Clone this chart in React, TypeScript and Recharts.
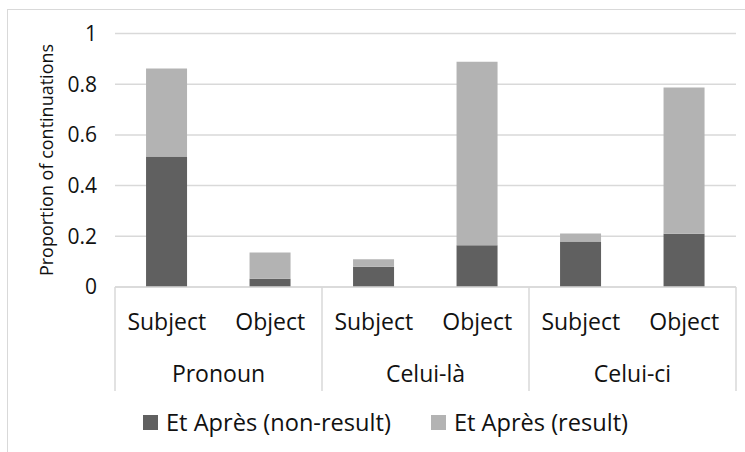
import React from 'react';
import { BarChart, Bar, XAxis, YAxis, CartesianGrid, Legend } from 'recharts';

const subCategories = ['Subject', 'Object', 'Subject', 'Object', 'Subject', 'Object'];
const groupLabels = ['Pronoun', 'Pronoun', 'Celui-là', 'Celui-là', 'Celui-ci', 'Celui-ci'];
const nonResult = [0.515, 0.033, 0.08, 0.165, 0.179, 0.21];
const result = [0.347, 0.103, 0.029, 0.724, 0.032, 0.577];
const yTicks = [0, 0.2, 0.4, 0.6, 0.8, 1];
const seriesNames = ['Et Après (non-result)', 'Et Après (result)'];

const data = subCategories.map((s, i) => ({
  sub: s,
  group: groupLabels[i],
  nonResult: nonResult[i],
  result: result[i],
}));

const FONT = '"Open Sans", sans-serif';
const CHART_W = 737;
const CHART_H = 444;
const M_LEFT = 47;
const Y_W = 60;
const M_RIGHT = 9;
const PLOT_W = CHART_W - M_LEFT - Y_W - M_RIGHT;
const BAND = PLOT_W / subCategories.length;
const LINE = '#d9d9d9';
const DARK = '#606060';
const LIGHT = '#b3b3b3';

const CategoryTick = (props: any) => {
  const { x, y, payload } = props;
  const i = payload.index;
  return (
    <g>
      <text x={x} y={y + 43} textAnchor="middle" fontFamily={FONT} fontSize={23} fill="#111">
        {subCategories[i]}
      </text>
      {i % 2 === 0 && (
        <>
          <line x1={x - BAND / 2} x2={x - BAND / 2} y1={y} y2={y + 104} stroke={LINE} strokeWidth={1.5} />
          <text x={x + BAND / 2} y={y + 95} textAnchor="middle" fontFamily={FONT} fontSize={23} fill="#111">
            {groupLabels[i]}
          </text>
        </>
      )}
      {i === subCategories.length - 1 && (
        <line x1={x + BAND / 2} x2={x + BAND / 2} y1={y} y2={y + 104} stroke={LINE} strokeWidth={1.5} />
      )}
    </g>
  );
};

const renderLegend = () => {
  const colors = [DARK, LIGHT];
  return (
    <div style={{ height: 60, display: 'flex', alignItems: 'center', paddingLeft: 135, fontFamily: FONT, fontSize: 23.6, color: '#111' }}>
      {seriesNames.map((n, i) => (
        <div key={n} style={{ display: 'flex', alignItems: 'center', marginRight: 40 }}>
          <span style={{ display: 'inline-block', width: 15, height: 15, background: colors[i], marginRight: 8 }} />
          <span>{n}</span>
        </div>
      ))}
    </div>
  );
};

export default function App() {
  return (
    <div>
      <div
        style={{
          position: 'absolute',
          left: 7,
          top: 9,
          width: 738,
          height: 443,
          boxSizing: 'border-box',
          borderTop: `1px solid ${LINE}`,
          borderLeft: `1px solid ${LINE}`,
          pointerEvents: 'none',
        }}
      />
      <BarChart
        width={CHART_W}
        height={CHART_H}
        data={data}
        margin={{ top: 25.5, right: M_RIGHT, left: M_LEFT, bottom: 0 }}
        barCategoryGap="30%"
      >
        <CartesianGrid vertical={false} stroke={LINE} strokeWidth={1.5} />
        <XAxis
          dataKey="sub"
          interval={0}
          tickSize={0}
          tickMargin={0}
          tickLine={false}
          axisLine={{ stroke: LINE, strokeWidth: 1.5 }}
          height={105}
          tick={<CategoryTick />}
        />
        <YAxis
          width={Y_W}
          domain={[0, 1]}
          ticks={yTicks}
          tickLine={false}
          axisLine={false}
          tickSize={0}
          tickMargin={18}
          tick={{ fontFamily: FONT, fontSize: 21, fill: '#111' }}
          label={{
            content: () => (
              <text
                x={38}
                y={152}
                transform="rotate(-90 38 152)"
                textAnchor="middle"
                dominantBaseline="central"
                fontFamily={FONT}
                fontSize={18}
                fill="#111"
              >
                Proportion of continuations
              </text>
            ),
          }}
        />
        <Legend verticalAlign="bottom" content={renderLegend} wrapperStyle={{ left: 0, bottom: 0, width: CHART_W, height: 60 }} />
        <Bar dataKey="nonResult" name={seriesNames[0]} stackId="a" fill={DARK} isAnimationActive={false} />
        <Bar dataKey="result" name={seriesNames[1]} stackId="a" fill={LIGHT} isAnimationActive={false} />
      </BarChart>
    </div>
  );
}
